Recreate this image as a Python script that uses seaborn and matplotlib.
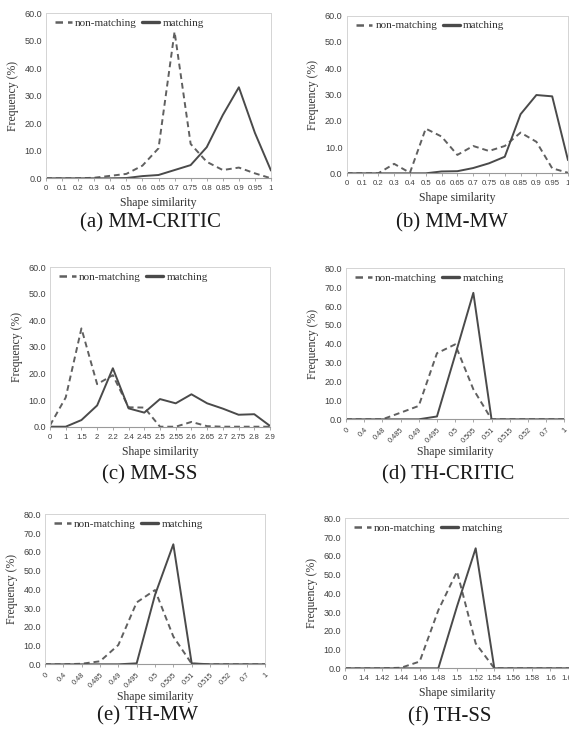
import matplotlib
matplotlib.use("Agg")
import matplotlib.pyplot as plt
import numpy as np
import pandas as pd
import seaborn as sns

# ---------------- data ----------------
cats_a = ["0", "0.1", "0.2", "0.3", "0.4", "0.5", "0.6", "0.65", "0.7", "0.75", "0.8", "0.85", "0.9", "0.95", "1"]
non_a = [0, 0, 0, 0.2, 0.9, 1.6, 4.6, 10.9, 53.3, 12.5, 6.0, 3.0, 3.9, 1.8, 0]
match_a = [0, 0, 0, 0, 0, 0.1, 0.8, 1.2, 3.0, 4.8, 11.3, 23.0, 33.1, 16.5, 2.8]

cats_b = ["0", "0.1", "0.2", "0.3", "0.4", "0.5", "0.6", "0.65", "0.7", "0.75", "0.8", "0.85", "0.9", "0.95", "1"]
non_b = [0, 0, 0, 3.6, 0.2, 17.0, 14.0, 7.0, 10.4, 8.5, 10.4, 15.5, 12.0, 1.9, 0.2]
match_b = [0, 0, 0, 0, 0, 0, 0.7, 0.8, 2.0, 3.8, 6.3, 22.5, 29.8, 29.3, 5.0]

cats_c = ["0", "1", "1.5", "2", "2.2", "2.4", "2.45", "2.5", "2.55", "2.6", "2.65", "2.7", "2.75", "2.8", "2.9"]
non_c = [0.5, 11.0, 37.0, 16.0, 19.4, 7.3, 7.2, 0, 0, 1.8, 0.2, 0, 0, 0, 0]
match_c = [0, 0, 2.5, 8.0, 22.0, 6.9, 5.3, 10.4, 8.8, 12.2, 8.8, 6.8, 4.5, 4.7, 0.3]

cats_d = ["0", "0.4", "0.48", "0.485", "0.49", "0.495", "0.5", "0.505", "0.51", "0.515", "0.52", "0.7", "1"]
non_d = [0, 0, 0, 3.5, 7.1, 35.0, 39.7, 15.9, 0, 0, 0, 0, 0]
match_d = [0, 0, 0, 0, 0, 1.5, 34.0, 67.0, 0, 0, 0, 0, 0]

cats_e = ["0", "0.4", "0.48", "0.485", "0.49", "0.495", "0.5", "0.505", "0.51", "0.515", "0.52", "0.7", "1"]
non_e = [0, 0, 0.3, 1.6, 10.3, 33.0, 39.6, 14.8, 0.3, 0, 0, 0, 0]
match_e = [0, 0, 0, 0, 0, 0.5, 37.0, 64.0, 0.5, 0, 0, 0, 0]

cats_f = ["0", "1.4", "1.42", "1.44", "1.46", "1.48", "1.5", "1.52", "1.54", "1.56", "1.58", "1.6", "1.62"]
non_f = [0, 0, 0, 0.3, 3.6, 31.0, 51.6, 13.3, 0, 0, 0, 0, 0]
match_f = [0, 0, 0, 0, 0, 0, 33.0, 64.0, 0, 0, 0, 0, 0]

titles = ["(a) MM-CRITIC", "(b) MM-MW", "(c) MM-SS", "(d) TH-CRITIC", "(e) TH-MW", "(f) TH-SS"]
series_names = ["non-matching", "matching"]

# ---------------- style ----------------
sns.set_theme(style="white")
plt.rcParams["font.family"] = ["Liberation Serif", "DejaVu Serif"]

W, H = 569, 730
fig = plt.figure(figsize=(W / 100, H / 100), dpi=100)

# pixel boxes: left, top, right, bottom
boxes = [
    (46, 13.3, 271, 178.3),
    (346.7, 15.7, 568, 173.3),
    (50, 267.3, 270, 426.7),
    (346, 268.3, 564.3, 419.3),
    (45, 514.3, 265, 664.3),
    (345, 518.3, 569, 668.3),
]
caption_pos = [(150, 223), (452, 223), (150, 475), (448, 475), (148, 716), (450, 717)]
ymaxes = [60, 60, 60, 80, 80, 80]
rotate = [False, False, False, True, True, False]
panels = [
    (cats_a, non_a, match_a),
    (cats_b, non_b, match_b),
    (cats_c, non_c, match_c),
    (cats_d, non_d, match_d),
    (cats_e, non_e, match_e),
    (cats_f, non_f, match_f),
]

tick_font = "Liberation Sans"
for i, (cats, non, mat) in enumerate(panels):
    l, t, r, b = boxes[i]
    wpx, hpx = r - l, b - t
    ax = fig.add_axes([l / W, 1 - b / H, wpx / W, hpx / H])
    n = len(cats)
    df = pd.DataFrame({
        "pos": list(range(n)) * 2,
        "value": list(non) + list(mat),
        "series": [series_names[0]] * n + [series_names[1]] * n,
    })
    sns.lineplot(data=df, x="pos", y="value", hue="series", style="series",
                 hue_order=series_names, style_order=series_names,
                 palette={series_names[0]: "#606060", series_names[1]: "#4a4a4a"},
                 dashes={series_names[0]: (3, 2), series_names[1]: ""},
                 linewidth=1.4, ax=ax, sort=False)
    ax.set_xlim(0, n - 1)
    ax.set_ylim(0, ymaxes[i])
    yt = np.arange(0, ymaxes[i] + 1, 10)
    ax.set_yticks(yt)
    ax.set_yticklabels([f"{v:.1f}" for v in yt],
                       family=tick_font, fontsize=6.5, color="#404040")
    ax.set_xticks(range(n))
    if rotate[i]:
        ax.set_xticklabels(cats, family=tick_font, fontsize=5.3, color="#404040",
                           rotation=45, ha="right", rotation_mode="anchor")
    else:
        ax.set_xticklabels(cats, family=tick_font, fontsize=5.6, color="#404040")
    ax.tick_params(axis="x", which="major", length=2.5, width=0.6, color="#9a9a9a",
                   pad=2.5, bottom=True)
    ax.tick_params(axis="y", length=0, pad=3)
    for s in ["top", "right", "left"]:
        ax.spines[s].set_color("#d4d4d4")
        ax.spines[s].set_linewidth(0.7)
    ax.spines["bottom"].set_color("#9a9a9a")
    ax.spines["bottom"].set_linewidth(0.8)
    ax.set_xlabel("Shape similarity", fontsize=8.5, color="#333333",
                  labelpad=1 if rotate[i] else 3.5)
    ax.set_ylabel("Frequency (%)", fontsize=8.5, color="#333333", labelpad=4)
    leg = ax.legend(loc="upper left", ncol=2, frameon=False, fontsize=8,
                    handlelength=1.5, columnspacing=0.5, handletextpad=0.3,
                    borderaxespad=0, borderpad=0,
                    bbox_to_anchor=(9 / wpx, 1 - 5 / hpx))
    for txt in leg.get_texts():
        txt.set_color("#333333")
    hl = leg.legend_handles
    hl[0].set_linewidth(1.8)
    hl[1].set_linewidth(2.4)
    cx, cy = caption_pos[i]
    fig.text(cx / W, 1 - cy / H, titles[i], ha="center", va="center",
             fontsize=15, color="#1a1a1a")

fig.savefig("out.png", dpi=100)
